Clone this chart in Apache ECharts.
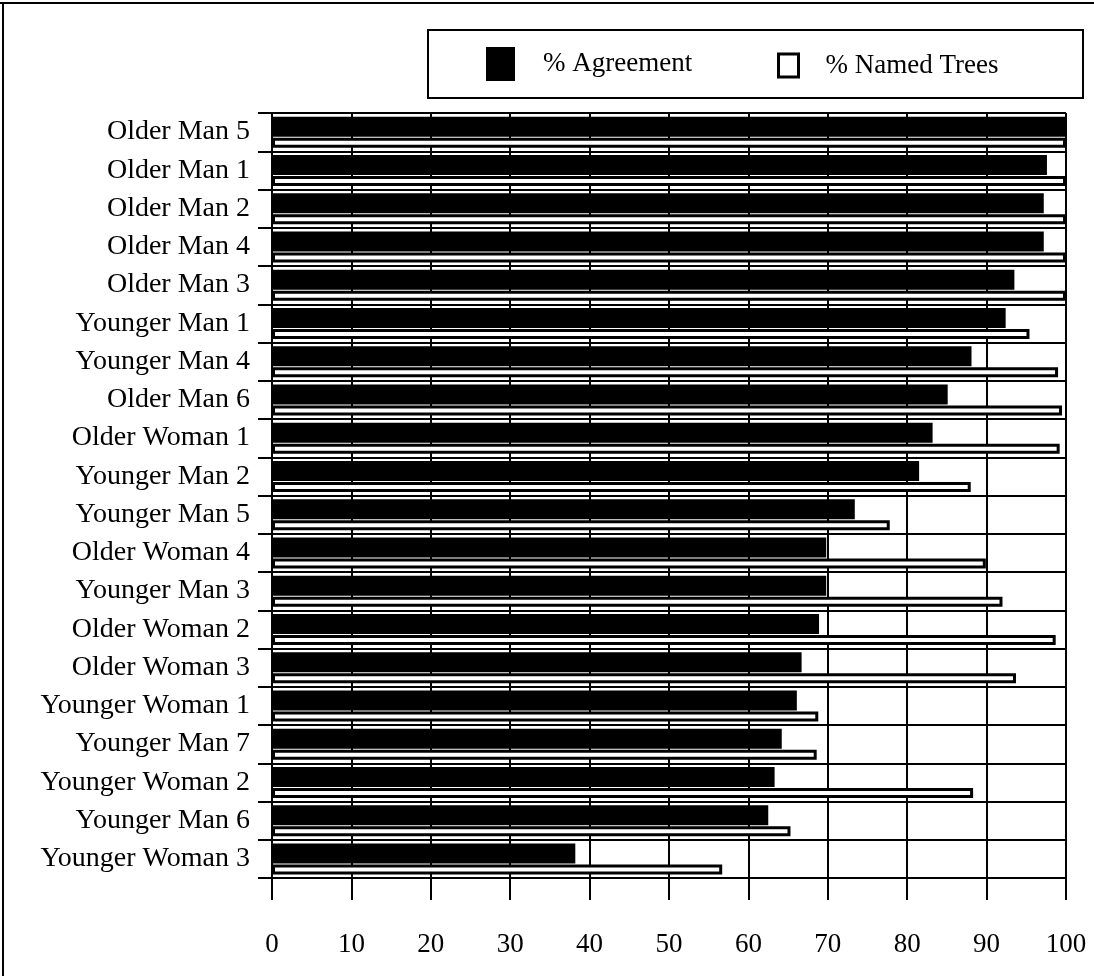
<!DOCTYPE html>
<html>
<head>
<meta charset="utf-8">
<script src="https://cdn.jsdelivr.net/npm/echarts@6/dist/echarts.min.js"></script>
<style>
  html, body { margin: 0; padding: 0; background: #fff; }
  #chart { width: 1094px; height: 976px; }
</style>
</head>
<body>
<div id="chart"></div>
<script>
// Participants, ordered top to bottom
const categories = [
  'Older Man 5', 'Older Man 1', 'Older Man 2', 'Older Man 4', 'Older Man 3',
  'Younger Man 1', 'Younger Man 4', 'Older Man 6', 'Older Woman 1', 'Younger Man 2',
  'Younger Man 5', 'Older Woman 4', 'Younger Man 3', 'Older Woman 2', 'Older Woman 3',
  'Younger Woman 1', 'Younger Man 7', 'Younger Woman 2', 'Younger Man 6', 'Younger Woman 3'
];

// % Agreement per participant
const agreement = [
  100, 97.6, 97.2, 97.2, 93.5,
  92.4, 88.1, 85.1, 83.2, 81.5,
  73.4, 69.8, 69.8, 68.9, 66.7,
  66.1, 64.2, 63.3, 62.5, 38.2
];

// % Named Trees per participant
const namedTrees = [
  100, 100, 100, 100, 100,
  95.4, 99.0, 99.5, 99.2, 88.0,
  77.8, 89.9, 92.0, 98.7, 93.7,
  68.8, 68.6, 88.3, 65.3, 56.7
];

const seriesNames = ['% Agreement', '% Named Trees'];
const FONT = 'Liberation Serif';

const chart = echarts.init(document.getElementById('chart'), null, { renderer: 'canvas' });

chart.setOption({
  backgroundColor: '#fff',
  animation: false,
  graphic: [
    // page frame (top and left edges)
    { type: 'line', shape: { x1: 0, y1: 3, x2: 1094, y2: 3 }, style: { stroke: '#000', lineWidth: 2 } },
    { type: 'line', shape: { x1: 3, y1: 3, x2: 3, y2: 976 }, style: { stroke: '#000', lineWidth: 2 } },
    // legend box
    { type: 'rect', shape: { x: 428, y: 30, width: 655, height: 68 }, style: { fill: 'none', stroke: '#000', lineWidth: 2 } }
  ],
  legend: [
    {
      data: [{ name: seriesNames[0], icon: 'rect' }],
      left: 486, top: 47, padding: 0,
      itemWidth: 29, itemHeight: 34,
      textStyle: { fontFamily: FONT, fontSize: 27, color: '#000', padding: [0, 0, 0, 23] }
    },
    {
      data: [{ name: seriesNames[1], icon: 'rect' }],
      left: 777, top: 52, padding: 0,
      itemWidth: 20, itemHeight: 23,
      itemStyle: { borderWidth: 3 },
      textStyle: { fontFamily: FONT, fontSize: 27, color: '#000', padding: [0, 0, 0, 22] }
    }
  ],
  grid: { left: 272, right: 28, top: 113, bottom: 98, containLabel: false },
  xAxis: {
    type: 'value', min: 0, max: 100, interval: 10,
    axisLine: { show: true, lineStyle: { color: '#000', width: 2 } },
    axisTick: { show: true, length: 22, lineStyle: { color: '#000', width: 2 } },
    axisLabel: { fontFamily: FONT, fontSize: 27, color: '#000', margin: 53 },
    splitLine: { show: true, lineStyle: { color: '#000', width: 2 } }
  },
  yAxis: {
    type: 'category', data: categories, inverse: true,
    axisLine: { show: true, lineStyle: { color: '#000', width: 2 } },
    axisTick: { show: true, length: 14, lineStyle: { color: '#000', width: 2 } },
    axisLabel: { fontFamily: FONT, fontSize: 28, color: '#000', margin: 22 },
    splitLine: { show: true, lineStyle: { color: '#000', width: 2 } }
  },
  series: [
    {
      name: seriesNames[0], type: 'bar', data: agreement,
      barWidth: 20, barGap: '5%',
      itemStyle: { color: '#000' }
    },
    {
      name: seriesNames[1], type: 'bar', data: namedTrees,
      barWidth: 10, barGap: '5%',
      itemStyle: { color: '#fff', borderColor: '#000', borderWidth: 3 }
    }
  ]
});
</script>
</body>
</html>
